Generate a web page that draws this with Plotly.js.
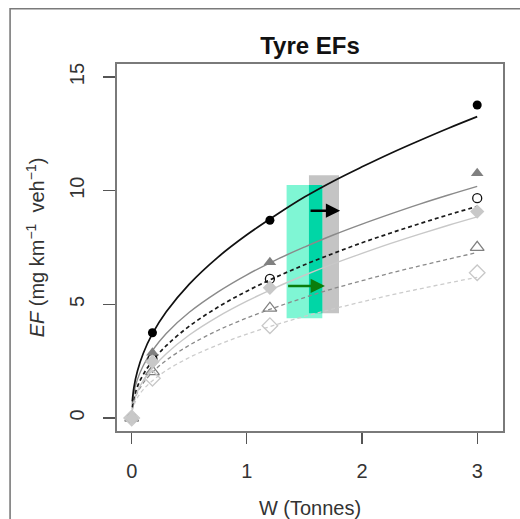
<!DOCTYPE html>
<html>
<head>
<meta charset="utf-8">
<script src="https://cdn.plot.ly/plotly-3.0.1.min.js"></script>
<style>html,body{margin:0;padding:0;background:#fff;}#chart{width:520px;height:519px;}</style>
</head>
<body>
<div id="chart"></div>
<script>
// Observed points (W in tonnes, EF in mg/km/veh)
const obsW = [0, 0.18, 1.2, 3];
const efBlackFilled = [0, 3.75, 8.70, 13.77];
const efGreyTriangle = [0, 2.87, 6.85, 10.77];
const efOpenCircle = [0, 2.60, 6.12, 9.67];
const efGreyDiamond = [0, 2.48, 5.73, 9.08];
const efOpenTriangle = [0, 2.04, 4.83, 7.51];
const efOpenDiamond = [0, 1.75, 4.06, 6.39];

// Fitted curves
const curveW = [0.005, 0.02, 0.05, 0.1, 0.18, 0.3, 0.5, 0.75, 1.0, 1.25, 1.5, 1.75, 2.0, 2.25, 2.5, 2.75, 3.0];
const fitBlack = [0.73, 1.37, 2.07, 2.84, 3.71, 4.67, 5.89, 7.08, 8.06, 8.92, 9.72, 10.42, 11.05, 11.65, 12.21, 12.75, 13.26];
const fitGrey = [0.62, 1.14, 1.70, 2.30, 2.97, 3.72, 4.65, 5.55, 6.30, 6.95, 7.52, 8.05, 8.53, 8.98, 9.41, 9.81, 10.19];
const fitBlackDash = [0.47, 0.90, 1.38, 1.91, 2.51, 3.18, 4.04, 4.88, 5.58, 6.19, 6.74, 7.24, 7.71, 8.14, 8.55, 8.94, 9.31];
const fitLightGrey = [0.37, 0.74, 1.17, 1.64, 2.20, 2.83, 3.65, 4.46, 5.14, 5.74, 6.28, 6.78, 7.24, 7.68, 8.09, 8.48, 8.85];
const fitGreyDash = [0.39, 0.73, 1.12, 1.53, 2.01, 2.54, 3.20, 3.86, 4.40, 4.87, 5.30, 5.69, 6.04, 6.38, 6.69, 6.99, 7.28];
const fitLightDash = [0.30, 0.58, 0.90, 1.25, 1.64, 2.09, 2.66, 3.22, 3.69, 4.10, 4.47, 4.80, 5.11, 5.41, 5.68, 5.94, 6.19];

// Shaded bands [x0, x1, y0, y1]
const bandCyan = [1.345, 1.655, 4.39, 10.25];
const bandGrey = [1.539, 1.80, 4.61, 10.68];

// Arrows [xTail, xHead, y]
const arrowBlack = [1.54, 1.81, 9.12];
const arrowGreen = [1.345, 1.678, 5.81];

const xTicks = [0, 1, 2, 3];
const yTicks = [0, 5, 10, 15];

const FONT = 'Liberation Sans, Arial, sans-serif';

function lineTrace(y, color, width, dash) {
  return {x: curveW, y: y, type: 'scatter', mode: 'lines', hoverinfo: 'skip', showlegend: false,
    line: {color: color, width: width, dash: dash, shape: 'spline', smoothing: 1}};
}
function markTrace(y, symbol, color, size, lw) {
  return {x: obsW, y: y, type: 'scatter', mode: 'markers', showlegend: false, cliponaxis: false,
    marker: {symbol: symbol, color: color, size: size, line: {color: color, width: lw}}};
}

const traces = [
  lineTrace(fitLightDash, '#cccccc', 1.3, '4px,3px'),
  lineTrace(fitGreyDash, '#8a8a8a', 1.3, '4px,3px'),
  lineTrace(fitLightGrey, '#c8c8c8', 1.4, 'solid'),
  lineTrace(fitBlackDash, '#1a1a1a', 1.7, '4px,3px'),
  lineTrace(fitGrey, '#8a8a8a', 1.4, 'solid'),
  lineTrace(fitBlack, '#111111', 1.7, 'solid'),
  markTrace(efBlackFilled, 'circle', '#000000', 9, 0),
  markTrace(efOpenCircle, 'circle-open', '#111111', 9, 1.3),
  markTrace(efGreyTriangle, 'triangle-up', '#808080', 11, 0),
  markTrace(efOpenTriangle, 'triangle-up-open', '#808080', 12, 1.3),
  markTrace(efGreyDiamond, 'diamond', '#c8c8c8', 11, 0),
  markTrace(efOpenDiamond, 'diamond-open', '#c8c8c8', 12, 1.3)
];

const ov = [Math.max(bandCyan[0], bandGrey[0]), Math.min(bandCyan[1], bandGrey[1]),
            Math.max(bandCyan[2], bandGrey[2]), Math.min(bandCyan[3], bandGrey[3])];

const shapes = [
  {type: 'rect', xref: 'x', yref: 'y', layer: 'below', x0: bandGrey[0], x1: bandGrey[1], y0: bandGrey[2], y1: bandGrey[3],
   fillcolor: '#c4c4c4', line: {width: 0}},
  {type: 'rect', xref: 'x', yref: 'y', layer: 'below', x0: bandCyan[0], x1: bandCyan[1], y0: bandCyan[2], y1: bandCyan[3],
   fillcolor: '#7ff6d4', line: {width: 0}},
  {type: 'rect', xref: 'x', yref: 'y', layer: 'below', x0: ov[0], x1: ov[1], y0: ov[2], y1: ov[3],
   fillcolor: '#00d6a6', line: {width: 0}},
  // outer figure frame
  {type: 'rect', xref: 'paper', yref: 'paper', x0: -0.277, x1: 2, y0: -1, y1: 1.1505,
   fillcolor: 'rgba(0,0,0,0)', line: {color: '#7a7a7a', width: 1.6}}
];

function arrow(a, color) {
  return {x: a[1], y: a[2], ax: a[0], ay: a[2], xref: 'x', yref: 'y', axref: 'x', ayref: 'y',
    text: '', showarrow: true, arrowhead: 2, arrowsize: 1.1, arrowwidth: 2.6, arrowcolor: color, standoff: 0, startstandoff: 0};
}

const layout = {
  width: 520, height: 519,
  margin: {l: 117, r: 17, t: 64, b: 88},
  paper_bgcolor: '#ffffff', plot_bgcolor: '#ffffff',
  font: {family: FONT, color: '#333333', size: 20},
  title: {text: '<b>Tyre EFs</b>', font: {family: FONT, size: 24, color: '#111111'},
    xref: 'paper', x: 0.5, xanchor: 'center', yref: 'container', y: 1 - 46/519, yanchor: 'middle'},
  xaxis: {range: [-0.1276, 3.224], tickvals: xTicks, ticktext: xTicks.map(String), showgrid: false, zeroline: false,
    showline: true, mirror: true, linecolor: '#7a7a7a', linewidth: 1.6,
    ticks: 'outside', ticklen: 11, tickwidth: 1.2, tickcolor: '#555555',
    tickfont: {family: FONT, size: 20, color: '#333333'}, ticklabelstandoff: 10,
    title: {text: 'W (Tonnes)', font: {family: FONT, size: 20, color: '#333333'}, standoff: 20}},
  yaxis: {range: [-0.572, 15.574], tickvals: yTicks, ticktext: yTicks.map(String), showgrid: false, zeroline: false,
    showline: true, mirror: true, linecolor: '#7a7a7a', linewidth: 1.6,
    ticks: 'outside', ticklen: 12, tickwidth: 1.2, tickcolor: '#555555', tickangle: -90,
    tickfont: {family: FONT, size: 20, color: '#333333'}, ticklabelstandoff: 11,
    title: {text: '<i>EF</i> (mg km<sup>−1</sup>  veh<sup>−1</sup>)', font: {family: FONT, size: 20, color: '#333333'}, standoff: 16}},
  shapes: shapes,
  annotations: [arrow(arrowBlack, '#000000'), arrow(arrowGreen, '#0b7d0b')],
  showlegend: false
};

Plotly.newPlot('chart', traces, layout, {displayModeBar: false, staticPlot: true});
</script>
</body>
</html>
